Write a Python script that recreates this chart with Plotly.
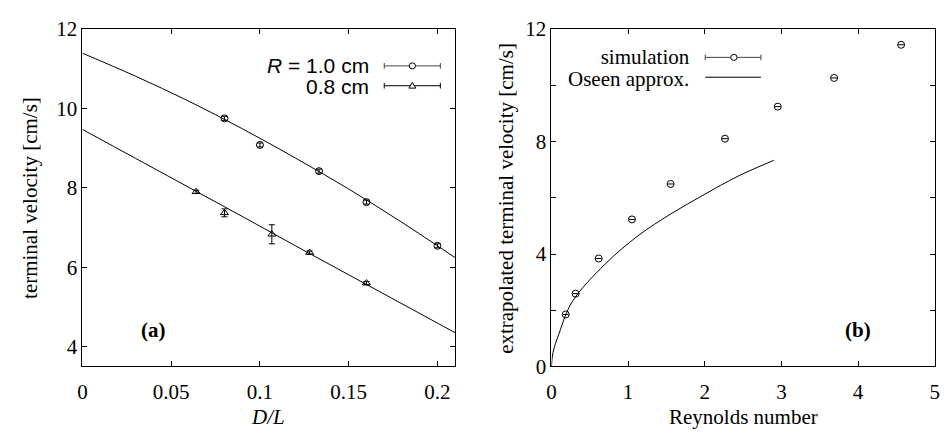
import plotly.graph_objects as go

# ---------------- data: panel (a) ----------------
dl_r10 = [0.08, 0.1, 0.1333, 0.16, 0.2]
v_r10 = [9.75, 9.08, 8.42, 7.64, 6.54]
err_r10 = [0.05, 0.05, 0.05, 0.05, 0.05]

dl_r08 = [0.064, 0.08, 0.1067, 0.128, 0.16]
v_r08 = [7.9, 7.37, 6.83, 6.37, 5.6]
err_r08 = [0.04, 0.1, 0.24, 0.04, 0.04]

fit_dl = [0, 0.03, 0.06, 0.09, 0.12, 0.15, 0.18, 0.21]
fit_r10 = [11.39, 10.81, 10.18, 9.49, 8.75, 7.97, 7.13, 6.24]
fit_r08 = [9.47, 8.74, 8.01, 7.28, 6.54, 5.81, 5.08, 4.35]

xticks_a = [0, 0.05, 0.1, 0.15, 0.2]
xticklabels_a = ["0", "0.05", "0.1", "0.15", "0.2"]
yticks_a = [4, 6, 8, 10, 12]
legend_a = ["<i>R</i> = 1.0 cm", "0.8 cm"]

# ---------------- data: panel (b) ----------------
re_sim = [0.186, 0.315, 0.616, 1.05, 1.554, 2.264, 2.952, 3.687, 4.561]
v_sim = [1.85, 2.59, 3.84, 5.23, 6.49, 8.10, 9.24, 10.26, 11.44]
re_err = [0.04, 0.04, 0.04, 0.04, 0.04, 0.04, 0.04, 0.04, 0.04]

re_oseen = [0, 0.02, 0.1, 0.27, 0.7, 1.13, 1.56, 1.99, 2.42, 2.9]
v_oseen = [0, 0.5, 1.18, 2.3, 3.64, 4.65, 5.43, 6.11, 6.75, 7.33]

xticks_b = [0, 1, 2, 3, 4, 5]
yticks_b = [0, 2, 4, 6, 8, 10, 12]
yticklabels_b = ["0", "", "4", "", "8", "", "12"]
legend_b = ["simulation", "Oseen approx."]

# ---------------- figure ----------------
W, H = 945, 439
SERIF = "Liberation Serif"
SANS = "Liberation Sans"
FS = 21


def px(x):
    return x / W


def py(y):
    return 1 - y / H


fig = go.Figure()

# panel (a) fits
fig.add_trace(go.Scatter(x=fit_dl, y=fit_r10, mode="lines", line=dict(color="black", width=1, shape="spline"),
                         xaxis="x", yaxis="y", showlegend=False, hoverinfo="skip"))
fig.add_trace(go.Scatter(x=fit_dl, y=fit_r08, mode="lines", line=dict(color="black", width=1, shape="spline"),
                         xaxis="x", yaxis="y", showlegend=False, hoverinfo="skip"))
# panel (a) data
fig.add_trace(go.Scatter(x=dl_r10, y=v_r10, mode="markers", name=legend_a[0],
                         marker=dict(symbol="circle-open", size=7, color="black", line=dict(width=1)),
                         error_y=dict(type="data", array=err_r10, color="black", thickness=1, width=3),
                         xaxis="x", yaxis="y", showlegend=False))
fig.add_trace(go.Scatter(x=dl_r08, y=v_r08, mode="markers", name=legend_a[1],
                         marker=dict(symbol="triangle-up-open", size=7, color="black", line=dict(width=1)),
                         error_y=dict(type="data", array=err_r08, color="black", thickness=1, width=3),
                         xaxis="x", yaxis="y", showlegend=False))

# panel (b)
fig.add_trace(go.Scatter(x=re_oseen, y=v_oseen, mode="lines", name=legend_b[1],
                         line=dict(color="black", width=1, shape="spline"),
                         xaxis="x2", yaxis="y2", showlegend=False, hoverinfo="skip"))
fig.add_trace(go.Scatter(x=re_sim, y=v_sim, mode="markers", name=legend_b[0],
                         marker=dict(symbol="circle-open", size=7, color="black", line=dict(width=1)),
                         error_x=dict(type="data", array=re_err, color="black", thickness=1, width=0),
                         xaxis="x2", yaxis="y2", showlegend=False))

ax_common = dict(showline=True, linecolor="black", linewidth=1, mirror="allticks", ticks="inside",
                 ticklen=5, tickwidth=1, tickcolor="black", showgrid=False, zeroline=False,
                 tickfont=dict(family=SERIF, size=FS, color="black"))

fig.update_layout(
    width=W, height=H, margin=dict(l=0, r=0, t=0, b=0),
    paper_bgcolor="white", plot_bgcolor="white",
    xaxis=dict(domain=[px(78.3), px(455)], range=[0, 0.21], tickvals=xticks_a, ticktext=xticklabels_a,
               anchor="y", ticklabelstandoff=6, **ax_common),
    yaxis=dict(domain=[py(375), py(18)], range=[3.5, 12], tickvals=yticks_a, anchor="x", **ax_common),
    xaxis2=dict(domain=[px(552.3), px(939.7)], range=[0, 5], tickvals=xticks_b, anchor="y2",
                ticklabelstandoff=6, **ax_common),
    yaxis2=dict(domain=[py(375), py(18)], range=[0, 12], tickvals=yticks_b, ticktext=yticklabels_b,
                anchor="x2", **ax_common),
)


def big(s):
    return '<span style="font-size:%dpx">%s</span>' % (FS, s)


ann = []
# axis titles
ann.append(dict(text="<i>D/L</i>", x=px(266), y=py(428), xref="paper", yref="paper", showarrow=False,
                font=dict(family=SERIF, size=FS, color="black"), xanchor="center", yanchor="middle"))
ann.append(dict(text="Reynolds number", x=px(746), y=py(428), xref="paper", yref="paper", showarrow=False,
                font=dict(family=SERIF, size=FS, color="black"), xanchor="center", yanchor="middle"))
ann.append(dict(text="terminal velocity [cm/s]", x=px(26), y=py(197), xref="paper", yref="paper",
                showarrow=False, textangle=-90,
                font=dict(family=SERIF, size=FS, color="black"), xanchor="center", yanchor="middle"))
ann.append(dict(text="extrapolated terminal velocity [cm/s]", x=px(507), y=py(197), xref="paper", yref="paper",
                showarrow=False, textangle=-90,
                font=dict(family=SERIF, size=FS, color="black"), xanchor="center", yanchor="middle"))
# panel labels
ann.append(dict(text="<b>(a)</b>", x=px(150), y=py(336), xref="paper", yref="paper", showarrow=False,
                font=dict(family=SERIF, size=FS, color="black"), xanchor="center", yanchor="middle"))
ann.append(dict(text="<b>(b)</b>", x=px(862), y=py(336), xref="paper", yref="paper", showarrow=False,
                font=dict(family=SERIF, size=FS, color="black"), xanchor="center", yanchor="middle"))
# legend texts (two lines per block, tight line spacing like the original)
ann.append(dict(text="<br>".join(big(s) for s in legend_a), x=px(370), y=py(67.5), xref="paper",
                yref="paper", showarrow=False, align="right",
                font=dict(family=SANS, size=16, color="black"), xanchor="right", yanchor="middle"))
ann.append(dict(text="<br>".join(big(s) for s in legend_b), x=px(694), y=py(59), xref="paper",
                yref="paper", showarrow=False, align="right",
                font=dict(family=SERIF, size=17, color="black"), xanchor="right", yanchor="middle"))
fig.update_layout(annotations=ann)

shapes = []


def errsample(x0, x1, y, color):
    shapes.append(dict(type="line", xref="paper", yref="paper", x0=px(x0), x1=px(x1), y0=py(y), y1=py(y),
                       line=dict(color=color, width=1)))
    for xx in (x0, x1):
        shapes.append(dict(type="line", xref="paper", yref="paper", x0=px(xx), x1=px(xx), y0=py(y - 3),
                           y1=py(y + 3), line=dict(color=color, width=1)))


def circ(cx, cy, r=3.2):
    shapes.append(dict(type="circle", xref="paper", yref="paper", x0=px(cx - r), x1=px(cx + r),
                       y0=py(cy + r), y1=py(cy - r), line=dict(color="black", width=1), fillcolor="white"))


def tri(cx, cy):
    path = "M {} {} L {} {} L {} {} Z".format(px(cx), py(cy - 3.5), px(cx - 3.5), py(cy + 2.5),
                                              px(cx + 3.5), py(cy + 2.5))
    shapes.append(dict(type="path", xref="paper", yref="paper", path=path,
                       line=dict(color="black", width=1), fillcolor="white"))


errsample(383.3, 440, 57, "#444")
circ(411.7, 57)
errsample(383.3, 440, 78, "black")
tri(411.7, 78)
errsample(707.7, 764, 48, "#444")
circ(736.7, 48)
shapes.append(dict(type="line", xref="paper", yref="paper", x0=px(707.7), x1=px(764), y0=py(69), y1=py(69),
                   line=dict(color="black", width=1)))
fig.update_layout(shapes=shapes)

fig.write_html("out.html")
